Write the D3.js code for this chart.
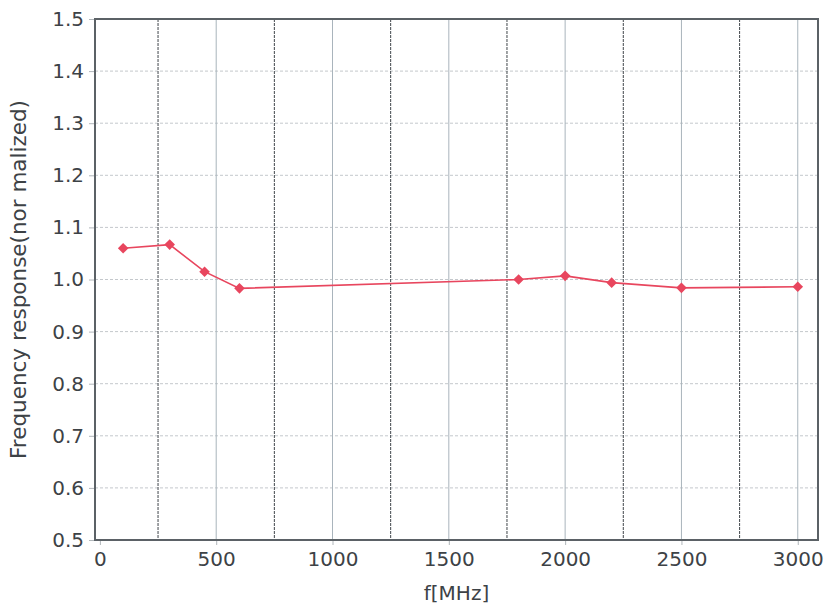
<!DOCTYPE html>
<head>
  <meta charset="utf-8">
  <script src="https://cdn.jsdelivr.net/npm/d3@7"></script>
  <style>
    body { margin: 0; background: white; }
    text { font-family: "DejaVu Sans", Verdana, sans-serif; fill: #3d4246; }
  </style>
</head>
<body>
  <div id="chart"></div>
  <script>

  var freqs  = [100, 300, 450, 600, 1800, 2000, 2200, 2500, 3000];
  var values = [1.060, 1.067, 1.015, 0.983, 1.000, 1.007, 0.994, 0.984, 0.986];

  var xTicks = [0, 500, 1000, 1500, 2000, 2500, 3000];
  var xMinor = [250, 750, 1250, 1750, 2250, 2750];
  var yTicks = [0.5, 0.6, 0.7, 0.8, 0.9, 1.0, 1.1, 1.2, 1.3, 1.4, 1.5];

  var width = 826, height = 612;
  var plotLeft = 95, plotRight = 818, plotTop = 19, plotBottom = 540;

  var svg = d3.select("#chart").append("svg")
    .attr("width", width)
    .attr("height", height);

  var x = d3.scaleLinear().domain([-21, 3087]).range([plotLeft, plotRight]);
  var y = d3.scaleLinear().domain([0.5, 1.5]).range([plotBottom, plotTop]);

  // horizontal dashed grid
  svg.append("g").selectAll("line")
    .data(yTicks.slice(1, -1))
    .enter().append("line")
    .attr("x1", plotLeft).attr("x2", plotRight)
    .attr("y1", d => y(d)).attr("y2", d => y(d))
    .style("stroke", "#c4c8cc")
    .style("stroke-width", 1)
    .style("stroke-dasharray", "3,2");

  // light vertical grid at major ticks
  svg.append("g").selectAll("line")
    .data(xTicks.slice(1))
    .enter().append("line")
    .attr("x1", d => x(d)).attr("x2", d => x(d))
    .attr("y1", plotTop).attr("y2", plotBottom)
    .style("stroke", "#a9b4bc")
    .style("stroke-width", 1);

  // dark dashed vertical grid in between
  svg.append("g").selectAll("line")
    .data(xMinor)
    .enter().append("line")
    .attr("x1", d => x(d)).attr("x2", d => x(d))
    .attr("y1", plotTop).attr("y2", plotBottom)
    .style("stroke", "#40464b")
    .style("stroke-width", 1)
    .style("stroke-dasharray", "3,1");

  // axes
  var yAxis = svg.append("g")
    .attr("transform", "translate(" + plotLeft + ",0)")
    .call(d3.axisLeft(y).tickValues(yTicks).tickFormat(d3.format(".1f")).tickSize(6).tickPadding(5));
  var xAxis = svg.append("g")
    .attr("transform", "translate(0," + plotBottom + ")")
    .call(d3.axisBottom(x).tickValues(xTicks).tickFormat(d3.format("d")).tickSize(5).tickPadding(7));

  [yAxis, xAxis].forEach(function(a) {
    a.select(".domain").remove();
    a.selectAll("line").style("stroke", "#b0b6ba");
    a.selectAll("text").style("font-size", "20px").style("fill", "#3d4246");
  });

  // plot frame
  svg.append("rect")
    .attr("x", plotLeft).attr("y", plotTop)
    .attr("width", plotRight - plotLeft).attr("height", plotBottom - plotTop)
    .style("fill", "none")
    .style("stroke", "#5b6166")
    .style("stroke-width", 2);

  // series
  var pts = freqs.map((f, i) => [f, values[i]]);
  svg.append("path")
    .datum(pts)
    .attr("d", d3.line().x(d => x(d[0])).y(d => y(d[1])))
    .style("fill", "none")
    .style("stroke", "#e8465e")
    .style("stroke-width", 1.6);

  svg.append("g").selectAll("path")
    .data(pts)
    .enter().append("path")
    .attr("transform", d => "translate(" + x(d[0]) + "," + y(d[1]) + ") rotate(45)")
    .attr("d", d3.symbol().type(d3.symbolSquare).size(56))
    .style("fill", "#e8465e");

  // titles
  svg.append("text")
    .attr("x", (plotLeft + plotRight) / 2)
    .attr("y", 600)
    .attr("text-anchor", "middle")
    .style("font-size", "20px")
    .text("f[MHz]");

  svg.append("text")
    .attr("transform", "translate(26," + ((plotTop + plotBottom) / 2) + ") rotate(-90)")
    .attr("text-anchor", "middle")
    .style("font-size", "21.5px")
    .text("Frequency response(nor malized)");

  </script>
</body>
